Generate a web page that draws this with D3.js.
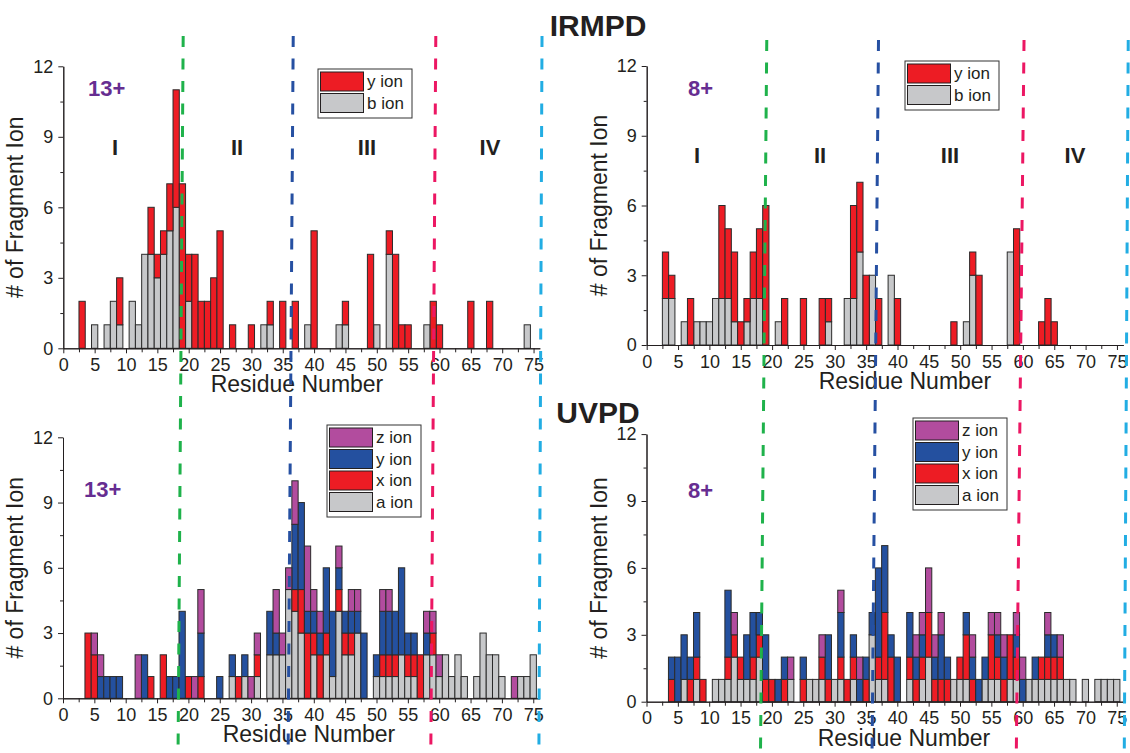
<!DOCTYPE html>
<head>
  <meta charset='utf-8'>
  <style>
    body { margin: 0; background: #fff; }
    svg { font-family: 'Liberation Sans', Arial, sans-serif; }
    .axis path, .axis line { stroke: #231f20; stroke-width: 1px; }
    .axis text { font-size: 18px; fill: #231f20; font-family: 'Liberation Sans', Arial, sans-serif; }
    .bar { stroke: #2b2b2b; stroke-width: 1px; }
    .title { font-weight: bold; font-size: 30px; fill: #231f20; }
    .region { font-weight: bold; font-size: 22px; fill: #231f20; text-anchor: middle; }
    .charge { font-weight: bold; font-size: 22px; fill: #662d91; }
    .label { font-size: 23px; fill: #231f20; text-anchor: middle; }
    .legend text { font-size: 17px; fill: #231f20; }
  </style>
</head>
<body>
<script src='https://d3js.org/d3.v7.min.js'></script>
<script>
    // ---- data (residue number, fragment counts per ion type) ----
    var irmpd13Res = [3,5,7,8,9, 11,12,13,14,15, 16,17,18,19,20, 21,22,23,24,25, 27,30,32,33,35, 37,39,40,44,45, 49,50,52,53,54, 55,58,59,60,65, 68,74];
    var irmpd13B   = [0,1,1,2,1, 2,1,4,4,3, 4,5,6,0,2, 0,0,0,0,0, 0,0,1,1,0, 0,1,0,1,1, 0,1,4,0,0, 0,1,0,0,0, 0,1];
    var irmpd13Y   = [2,0,0,0,2, 0,0,0,2,1, 1,2,5,7,2, 4,2,2,3,5, 1,1,0,1,2, 2,0,5,0,1, 4,0,1,4,1, 1,0,2,1,2, 2,0];

    var irmpd8Res = [3,4,6,7,8, 9,10,11,12,13, 14,15,16,17,18, 19,21,22,25,28, 29,32,33,34,35, 36,37,39,40,49, 51,52,53,58,59, 63,64,65];
    var irmpd8B   = [2,2,1,0,1, 1,1,2,2,2, 1,0,1,2,2, 0,1,0,0,0, 1,2,2,4,0, 3,0,3,0,0, 1,3,0,4,0, 0,0,0];
    var irmpd8Y   = [2,1,0,2,0, 0,0,0,4,3, 3,1,1,2,3, 6,0,2,2,2, 1,0,4,3,3, 0,2,0,2,1, 0,1,3,0,5, 1,2,1];

    var uvpd13Res = [4,5,6,7,8, 9,12,13,14,16, 17,18,19,20,21, 22,25,27,28,29, 30,31,33,34,35, 36,37,38,39,40, 41,42,43,44,45, 46,47,48,50,51, 52,53,54,55,56, 57,58,59,60,61, 62,63,64,66,67, 68,69,70,72,73, 74,75];
    var uvpd13A   = [0,0,0,0,0, 0,0,0,0,0, 0,0,0,0,0, 0,0,1,0,1, 0,1,2,2,2, 5,4,3,0,2, 0,2,1,4,2, 2,3,0,1,1, 1,1,2,1,1, 0,2,2,1,2, 1,2,1,1,3, 2,2,1,0,1, 1,2];
    var uvpd13X   = [3,2,0,0,0, 0,0,0,1,2, 0,0,0,1,0, 1,0,0,1,0, 0,1,0,0,0, 0,1,2,3,1, 2,1,0,1,1, 1,0,0,0,1, 1,1,0,1,1, 2,0,1,0,0, 0,0,0,0,0, 0,0,0,0,0, 0,0];
    var uvpd13Y   = [0,0,1,1,1, 1,0,2,0,0, 1,1,4,0,0, 2,1,1,0,1, 0,0,2,1,0, 0,3,4,1,1, 1,3,3,1,1, 1,1,3,1,2, 2,2,4,1,1, 0,1,0,0,0, 0,0,0,0,0, 0,0,0,0,0, 0,0];
    var uvpd13Z   = [0,1,1,0,0, 0,2,0,0,0, 0,0,0,0,1, 2,0,0,0,0, 1,1,0,2,1, 1,2,0,3,1, 1,0,0,1,0, 1,1,0,0,1, 1,0,0,0,0, 0,1,1,1,0, 0,0,0,0,0, 0,0,0,1,0, 0,0];

    var uvpd8Res = [4,5,6,7,8, 9,11,12,13,14, 15,16,17,18,19, 20,21,22,23,25, 26,27,28,29,30, 31,32,33,34,35, 36,37,38,39,40, 42,43,44,45,46, 47,48,49,50,51, 52,53,54,55,56, 57,58,59,60,61, 62,63,64,65,66, 67,68,70,72,73, 74,75];
    var uvpd8A   = [0,0,1,0,1, 0,1,1,1,2, 1,1,1,2,0, 0,0,0,1,0, 1,1,1,0,1, 1,0,1,0,0, 3,1,1,0,0, 1,0,1,2,0, 0,0,1,1,1, 0,0,1,1,1, 0,1,1,0,1, 1,1,1,1,1, 1,1,1,1,1, 1,1];
    var uvpd8X   = [1,0,0,1,1, 1,0,0,1,1, 1,0,1,1,1, 1,0,1,0,1, 0,0,1,1,0, 1,1,1,0,1, 0,1,3,2,0, 1,1,1,2,1, 1,1,0,1,2, 1,0,0,2,1, 1,2,1,0,0, 0,1,1,1,1, 0,0,0,0,0, 0,0];
    var uvpd8Y   = [1,2,2,1,2, 0,0,0,3,0, 0,2,2,1,2, 0,1,1,0,1, 0,0,0,2,0, 2,0,1,1,1, 1,4,3,1,2, 2,1,1,0,1, 2,1,0,0,1, 1,1,1,0,1, 1,0,1,1,0, 1,0,1,1,0, 0,0,0,0,0, 0,0];
    var uvpd8Z   = [0,0,0,0,0, 0,0,0,0,1, 0,0,0,0,0, 0,0,0,1,0, 0,0,1,0,0, 1,0,0,1,0, 0,0,0,0,0, 0,1,1,2,1, 1,0,0,0,0, 1,0,0,1,1, 1,0,1,1,0, 0,0,1,0,1, 0,0,0,0,0, 0,0];

    var xTicks = d3.range(0, 76, 5);
    var yTicks = [0, 3, 6, 9, 12];
    var regions = ['I', 'II', 'III', 'IV'];
    // region boundaries (residue) at top / bottom of each column
    var boundTop = [19.12, 36.67, 59.41, 76.35];
    var boundBottom = [18.35, 35.9, 58.66, 75.9];
    var boundTopR = [19.15, 36.97, 60.18, 76.8];
    var boundBottomR = [18.18, 35.97, 58.98, 76.2];

    var colors = {
        a: '#c7c8ca', b: '#c7c8ca', x: '#ed1c24', y: '#ed1c24', yu: '#24509f', z: '#b24c9e'
    };
    var lineColors = ['#1fb24b', '#2650a2', '#ec1763', '#22ade3'];

    var W = 1130, H = 753;
    var svg = d3.select('body').append('svg')
        .attr('width', W)
        .attr('height', H);

    function drawPanel(p) {
        var x = d3.scaleLinear().domain([0, p.xEnd]).range([p.x0, p.x0 + p.xEnd * p.xu]),
            y = d3.scaleLinear().domain([0, 12]).range([p.y0, p.y0 - 12 * p.yu]),
            keys = p.series.map(function(s) { return s.key; });

        var rows = p.res.map(function(r, i) {
            var o = {res: r};
            p.series.forEach(function(s) { o[s.key] = s.values[i]; });
            return o;
        });
        var layers = d3.stack().keys(keys)(rows);

        var g = svg.append('g');
        g.selectAll('g.layer')
            .data(layers)
            .enter().append('g')
            .attr('class', 'layer')
            .attr('fill', function(d) { return p.series[d.index].color; })
            .selectAll('rect')
            .data(function(d) { return d.filter(function(q) { return q[1] > q[0]; }); })
            .enter().append('rect')
            .attr('class', 'bar')
            .attr('x', function(d) { return x(d.data.res - 0.5); })
            .attr('width', x(1) - x(0))
            .attr('y', function(d) { return y(d[1]); })
            .attr('height', function(d) { return y(d[0]) - y(d[1]); });

        // axes
        g.append('g')
            .attr('class', 'axis')
            .attr('transform', 'translate(0,' + p.y0 + ')')
            .call(d3.axisBottom(x).tickValues(d3.range(2.5, 76, 5)).tickSize(4).tickSizeOuter(0).tickFormat(''));
        g.append('g')
            .attr('class', 'axis')
            .attr('transform', 'translate(0,' + p.y0 + ')')
            .call(d3.axisBottom(x).tickValues(xTicks).tickSize(5).tickSizeOuter(0).tickPadding(5));
        g.append('g')
            .attr('class', 'axis')
            .attr('transform', 'translate(' + x(0) + ',0)')
            .call(d3.axisLeft(y).tickValues([1.5, 4.5, 7.5, 10.5]).tickSize(3).tickSizeOuter(0).tickFormat(''));
        g.append('g')
            .attr('class', 'axis')
            .attr('transform', 'translate(' + x(0) + ',0)')
            .call(d3.axisLeft(y).tickValues(yTicks).tickSize(5).tickSizeOuter(0).tickPadding(5));

        g.append('text')
            .attr('class', 'label')
            .attr('x', p.xLabelX)
            .attr('y', p.y0 + 44)
            .text('Residue Number');
        g.append('text')
            .attr('class', 'label')
            .attr('transform', 'translate(' + (x(0) - 40) + ',' + y(6) + ') rotate(-90)')
            .text('# of Fragment Ion');

        g.append('text')
            .attr('class', 'charge')
            .attr('x', p.chargeX)
            .attr('y', p.chargeY)
            .text(p.charge);

        if (p.regionY) {
            g.selectAll('.region')
                .data(regions)
                .enter().append('text')
                .attr('class', 'region')
                .attr('x', function(d, i) { return p.regionX[i]; })
                .attr('y', p.regionY)
                .text(function(d) { return d; });
        }

        // legend: reversed so the top ion is listed first
        var leg = g.append('g')
            .attr('class', 'legend')
            .attr('transform', 'translate(' + p.legX + ',' + p.legY + ')');
        var items = p.series.slice().reverse();
        leg.append('rect')
            .attr('width', 94)
            .attr('height', items.length * 21.5 + 6)
            .attr('fill', '#fff')
            .attr('stroke', '#333');
        items.forEach(function(s, i) {
            leg.append('rect')
                .attr('x', 2.5)
                .attr('y', 3 + i * 21.5)
                .attr('width', 43)
                .attr('height', 19)
                .attr('fill', s.color)
                .attr('stroke', '#231f20');
            leg.append('text')
                .attr('x', 49)
                .attr('y', 18 + i * 21.5)
                .text(s.key + ' ion');
        });
        return x;
    }

    var p1x = drawPanel({
        res: irmpd13Res,
        series: [{key: 'b', values: irmpd13B, color: colors.b}, {key: 'y', values: irmpd13Y, color: colors.y}],
        x0: 63.3, xu: 6.27, y0: 348.3, yu: 23.5, xEnd: 76,
        xLabelX: 297, charge: '13+', chargeX: 88, chargeY: 96,
        regionX: [115, 237, 367, 490], regionY: 155,
        legX: 318, legY: 69
    });
    var p2x = drawPanel({
        res: irmpd8Res,
        series: [{key: 'b', values: irmpd8B, color: colors.b}, {key: 'y', values: irmpd8Y, color: colors.y}],
        x0: 646.7, xu: 6.27, y0: 345, yu: 23.25, xEnd: 76,
        xLabelX: 905, charge: '8+', chargeX: 688, chargeY: 96,
        regionX: [697, 820, 950, 1075], regionY: 163,
        legX: 905, legY: 61
    });
    var p3x = drawPanel({
        res: uvpd13Res,
        series: [{key: 'a', values: uvpd13A, color: colors.a}, {key: 'x', values: uvpd13X, color: colors.x},
                 {key: 'y', values: uvpd13Y, color: colors.yu}, {key: 'z', values: uvpd13Z, color: colors.z}],
        x0: 63, xu: 6.27, y0: 698.3, yu: 21.75, xEnd: 76,
        xLabelX: 309, charge: '13+', chargeX: 84, chargeY: 497,
        legX: 327, legY: 425
    });
    var p4x = drawPanel({
        res: uvpd8Res,
        series: [{key: 'a', values: uvpd8A, color: colors.a}, {key: 'x', values: uvpd8X, color: colors.x},
                 {key: 'y', values: uvpd8Y, color: colors.yu}, {key: 'z', values: uvpd8Z, color: colors.z}],
        x0: 646.5, xu: 6.27, y0: 701.7, yu: 22.3, xEnd: 76,
        xLabelX: 904, charge: '8+', chargeX: 688, chargeY: 498,
        legX: 913, legY: 418
    });

    // region dividers crossing both rows
    var dividers = svg.append('g');
    boundTop.forEach(function(b, i) {
        dividers.append('line')
            .attr('x1', p1x(b)).attr('y1', 36)
            .attr('x2', p3x(boundBottom[i])).attr('y2', H)
            .attr('stroke', lineColors[i]).attr('stroke-width', 3)
            .attr('stroke-dasharray', '11,11.5');
        dividers.append('line')
            .attr('x1', p2x(boundTopR[i])).attr('y1', 40)
            .attr('x2', p4x(boundBottomR[i])).attr('y2', H)
            .attr('stroke', lineColors[i]).attr('stroke-width', 3)
            .attr('stroke-dasharray', '11,11.5');
    });

    svg.append('text').attr('class', 'title').attr('x', 598).attr('y', 36).attr('text-anchor', 'middle').text('IRMPD');
    svg.append('text').attr('class', 'title').attr('x', 598).attr('y', 423).attr('text-anchor', 'middle').text('UVPD');
</script>
</body>
